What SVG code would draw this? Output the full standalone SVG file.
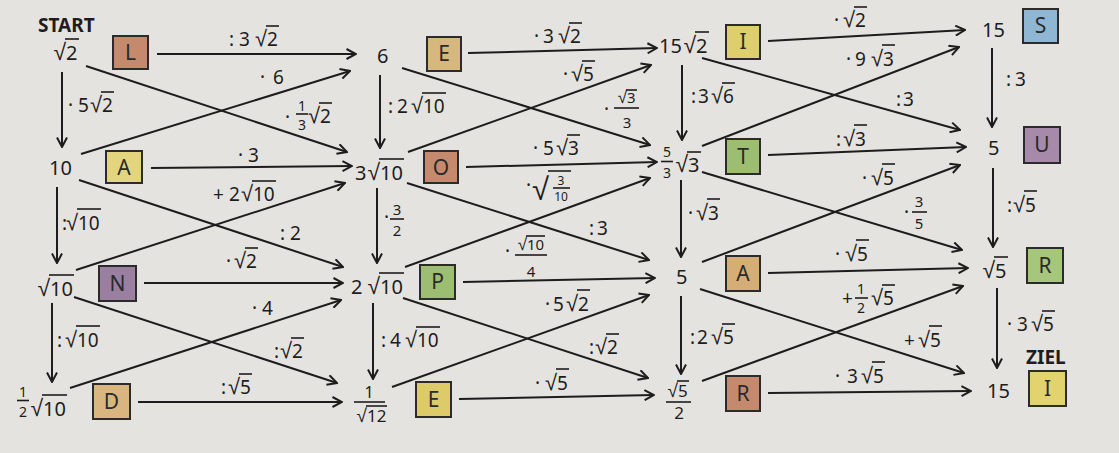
<svg xmlns="http://www.w3.org/2000/svg" width="1119" height="453" viewBox="0 0 1119 453">
<defs>
<style>
text{font-family:"Noto Sans","Open Sans",sans-serif;fill:#1d1d1d}
.n{font-size:20px}
.l{font-size:19px}
.s{font-size:14px;text-anchor:middle}
.s2{font-size:16px;text-anchor:middle}
.r{font-family:"Liberation Sans",sans-serif;font-size:22px}
.rn{font-family:"Liberation Sans",sans-serif;font-size:23px}
.rs{font-family:"Liberation Sans",sans-serif;font-size:17px}
.b{font-weight:bold;font-size:19px}
.k{font-size:21px;text-anchor:middle;fill:#2a2a2a}
.box{stroke:#2b2b2b;stroke-width:2}
.v{stroke:#1d1d1d;stroke-width:1.6;fill:none}
#connectors line{stroke:#1d1d1d;stroke-width:2;marker-end:url(#ah)}
</style>
<marker id="ah" viewBox="0 0 12 12" refX="11" refY="6" markerWidth="12" markerHeight="12" markerUnits="userSpaceOnUse" orient="auto">
<path d="M1.5,1 L11,6 L1.5,11" fill="none" stroke="#1d1d1d" stroke-width="2"/>
</marker>
</defs>
<rect width="1119" height="453" fill="#e5e3df"/>

<g id="connectors">
<line x1="157" y1="54" x2="356" y2="54"/>
<line x1="151" y1="168" x2="352" y2="166"/>
<line x1="144" y1="283" x2="343" y2="283"/>
<line x1="138" y1="402" x2="342" y2="402"/>
<line x1="468" y1="53" x2="657" y2="48"/>
<line x1="466" y1="167" x2="657" y2="162"/>
<line x1="463" y1="282" x2="655" y2="278"/>
<line x1="459" y1="399" x2="654" y2="395"/>
<line x1="768" y1="41" x2="965" y2="30"/>
<line x1="768" y1="155" x2="966" y2="147"/>
<line x1="768" y1="273" x2="968" y2="268"/>
<line x1="768" y1="393" x2="971" y2="391"/>
<line x1="86" y1="66" x2="347" y2="152"/>
<line x1="81" y1="154" x2="350" y2="71"/>
<line x1="79" y1="180" x2="343" y2="267"/>
<line x1="76" y1="270" x2="345" y2="183"/>
<line x1="74" y1="297" x2="337" y2="383"/>
<line x1="70" y1="388" x2="341" y2="300"/>
<line x1="402" y1="68" x2="650" y2="145"/>
<line x1="408" y1="152" x2="651" y2="65"/>
<line x1="407" y1="183" x2="649" y2="260"/>
<line x1="405" y1="267" x2="650" y2="178"/>
<line x1="403" y1="298" x2="648" y2="378"/>
<line x1="392" y1="387" x2="649" y2="295"/>
<line x1="702" y1="58" x2="960" y2="130"/>
<line x1="702" y1="146" x2="959" y2="47"/>
<line x1="702" y1="172" x2="962" y2="250"/>
<line x1="702" y1="262" x2="960" y2="165"/>
<line x1="700" y1="289" x2="964" y2="373"/>
<line x1="702" y1="381" x2="963" y2="286"/>
<line x1="62" y1="72" x2="62" y2="147"/>
<line x1="57" y1="187" x2="57" y2="263"/>
<line x1="52" y1="303" x2="52" y2="382"/>
<line x1="380" y1="75" x2="380" y2="148"/>
<line x1="377" y1="188" x2="377" y2="263"/>
<line x1="373" y1="303" x2="373" y2="379"/>
<line x1="682" y1="65" x2="682" y2="140"/>
<line x1="681" y1="180" x2="681" y2="257"/>
<line x1="681" y1="296" x2="681" y2="374"/>
<line x1="992" y1="48" x2="992" y2="127"/>
<line x1="993" y1="168" x2="993" y2="247"/>
<line x1="997" y1="288" x2="997" y2="368"/>
</g>

<g id="labels">
<text class="l" y="46"><tspan x="229">:</tspan><tspan x="239">3</tspan><tspan class="r" x="267" text-anchor="end">√</tspan><tspan x="267">2</tspan></text><path class="v" d="M266,26h13"/>
<text class="l" y="84"><tspan x="260">·</tspan><tspan x="273">6</tspan></text>
<text class="l" y="124"><tspan x="285">·</tspan></text><text class="s" y="111"><tspan x="302">1</tspan></text><path class="v" d="M296,114h12"/><text class="s" y="130"><tspan x="302">3</tspan></text>
<text class="l" y="123"><tspan class="r" x="320" text-anchor="end">√</tspan><tspan x="320">2</tspan></text><path class="v" d="M319,103h13"/>
<text class="l" y="112"><tspan x="68">·</tspan><tspan x="78">5</tspan><tspan class="r" x="102" text-anchor="end">√</tspan><tspan x="102">2</tspan></text><path class="v" d="M101,92h13"/>
<text class="l" y="162"><tspan x="238">·</tspan><tspan x="248">3</tspan></text>
<text class="l" y="201"><tspan x="213">+</tspan><tspan x="229">2</tspan><tspan class="r" x="253" text-anchor="end">√</tspan><tspan x="253">10</tspan></text><path class="v" d="M252,181h24"/>
<text class="l" y="230"><tspan x="62">:</tspan><tspan class="r" x="78" text-anchor="end">√</tspan><tspan x="78">10</tspan></text><path class="v" d="M77,209h24"/>
<text class="l" y="240"><tspan x="280">:</tspan><tspan x="290">2</tspan></text>
<text class="l" y="268"><tspan x="226">·</tspan><tspan class="r" x="246" text-anchor="end">√</tspan><tspan x="246">2</tspan></text><path class="v" d="M245,248h13"/>
<text class="l" y="315"><tspan x="252">·</tspan><tspan x="262">4</tspan></text>
<text class="l" y="347"><tspan x="57">:</tspan><tspan class="r" x="77" text-anchor="end">√</tspan><tspan x="77">10</tspan></text><path class="v" d="M76,326h24"/>
<text class="l" y="358"><tspan x="274">:</tspan><tspan class="r" x="292" text-anchor="end">√</tspan><tspan x="292">2</tspan></text><path class="v" d="M291,338h13"/>
<text class="l" y="394"><tspan x="221">:</tspan><tspan class="r" x="240" text-anchor="end">√</tspan><tspan x="240">5</tspan></text><path class="v" d="M239,374h13"/>

<text class="l" y="43"><tspan x="534">·</tspan><tspan x="543">3</tspan><tspan class="r" x="570" text-anchor="end">√</tspan><tspan x="570">2</tspan></text><path class="v" d="M569,23h13"/>
<text class="l" y="81"><tspan x="563">·</tspan><tspan class="r" x="583" text-anchor="end">√</tspan><tspan x="583">5</tspan></text><path class="v" d="M582,61h13"/>
<text class="l" y="113"><tspan x="388">:</tspan><tspan x="397">2</tspan><tspan class="r" x="423" text-anchor="end">√</tspan><tspan x="423">10</tspan></text><path class="v" d="M422,93h24"/>
<text class="l" y="116"><tspan x="604">·</tspan></text><text style="font-size:15px" y="103"><tspan class="rs" x="627" text-anchor="end">√</tspan><tspan x="627">3</tspan></text><path class="v" d="M626,90h11"/><path class="v" d="M614,108h25"/><text class="s" style="font-size:15px" y="128"><tspan x="627">3</tspan></text>
<text class="l" y="155"><tspan x="533">·</tspan><tspan x="543">5</tspan><tspan class="r" x="568" text-anchor="end">√</tspan><tspan x="568">3</tspan></text><path class="v" d="M567,135h13"/>
<text class="l" y="192"><tspan x="526">·</tspan><tspan style="font-family:'Liberation Sans',sans-serif;font-size:31px" x="549" y="200" text-anchor="end">√</tspan></text><path class="v" d="M548,171h23"/><text class="s" style="font-size:12px" y="184.5"><tspan x="561">3</tspan></text><path class="v" d="M553,188h17"/><text class="s" style="font-size:12px" y="200.5"><tspan x="561">10</tspan></text>
<text class="l" y="224"><tspan x="384">·</tspan></text><text class="s" style="font-size:15px" y="215"><tspan x="397">3</tspan></text><path class="v" d="M390,219h14"/><text class="s" style="font-size:15px" y="236"><tspan x="397">2</tspan></text>
<text class="l" y="235"><tspan x="589">:</tspan><tspan x="597">3</tspan></text>
<text class="l" y="258"><tspan x="505">·</tspan></text><text style="font-size:15px" y="250"><tspan class="rs" x="527" text-anchor="end">√</tspan><tspan x="527">10</tspan></text><path class="v" d="M526,236h19"/><path class="v" d="M515,255h32"/><text class="s" style="font-size:15px" y="277"><tspan x="531">4</tspan></text>
<text class="l" y="311"><tspan x="545">·</tspan><tspan x="553">5</tspan><tspan class="r" x="578" text-anchor="end">√</tspan><tspan x="578">2</tspan></text><path class="v" d="M577,290h13"/>
<text class="l" y="347"><tspan x="381">:</tspan><tspan x="390">4</tspan><tspan class="r" x="417" text-anchor="end">√</tspan><tspan x="417">10</tspan></text><path class="v" d="M416,327h24"/>
<text class="l" y="354"><tspan x="589">:</tspan><tspan class="r" x="607" text-anchor="end">√</tspan><tspan x="607">2</tspan></text><path class="v" d="M606,334h13"/>
<text class="l" y="390"><tspan x="535">·</tspan><tspan class="r" x="557" text-anchor="end">√</tspan><tspan x="557">5</tspan></text><path class="v" d="M556,369h13"/>

<text class="l" y="27"><tspan x="834">·</tspan><tspan class="r" x="855" text-anchor="end">√</tspan><tspan x="855">2</tspan></text><path class="v" d="M854,7h13"/>
<text class="l" y="66"><tspan x="846">·</tspan><tspan x="855">9</tspan><tspan class="r" x="883" text-anchor="end">√</tspan><tspan x="883">3</tspan></text><path class="v" d="M882,45h13"/>
<text class="l" y="103"><tspan x="691">:</tspan><tspan x="698">3</tspan><tspan class="r" x="723" text-anchor="end">√</tspan><tspan x="723">6</tspan></text><path class="v" d="M722,83h13"/>
<text class="l" y="106"><tspan x="896">:</tspan><tspan x="903">3</tspan></text>
<text class="l" y="86"><tspan x="1006">:</tspan><tspan x="1015">3</tspan></text>
<text class="l" y="146"><tspan x="836">:</tspan><tspan class="r" x="855" text-anchor="end">√</tspan><tspan x="855">3</tspan></text><path class="v" d="M854,125h13"/>
<text class="l" y="185"><tspan x="862">·</tspan><tspan class="r" x="883" text-anchor="end">√</tspan><tspan x="883">5</tspan></text><path class="v" d="M882,164h13"/>
<text class="l" y="212"><tspan x="1007">:</tspan><tspan class="r" x="1025" text-anchor="end">√</tspan><tspan x="1025">5</tspan></text><path class="v" d="M1024,191h13"/>
<text class="l" y="220"><tspan x="688">·</tspan><tspan class="r" x="708" text-anchor="end">√</tspan><tspan x="708">3</tspan></text><path class="v" d="M707,199h13"/>
<text class="l" y="219"><tspan x="904">·</tspan></text><text class="s" style="font-size:15px" y="207"><tspan x="919">3</tspan></text><path class="v" d="M912,212h15"/><text class="s" style="font-size:15px" y="229"><tspan x="919">5</tspan></text>
<text class="l" y="261"><tspan x="835">·</tspan><tspan class="r" x="857" text-anchor="end">√</tspan><tspan x="857">5</tspan></text><path class="v" d="M856,240h13"/>
<text class="l" y="305"><tspan x="842">+</tspan></text><text class="s" y="294"><tspan x="861">1</tspan></text><path class="v" d="M855,298h13"/><text class="s" y="313"><tspan x="861">2</tspan></text>
<text class="l" y="305"><tspan class="r" x="883" text-anchor="end">√</tspan><tspan x="883">5</tspan></text><path class="v" d="M882,285h13"/>
<text class="l" y="344"><tspan x="690">:</tspan><tspan x="697">2</tspan><tspan class="r" x="723" text-anchor="end">√</tspan><tspan x="723">5</tspan></text><path class="v" d="M722,324h13"/>
<text class="l" y="331"><tspan x="1007">·</tspan><tspan x="1017">3</tspan><tspan class="r" x="1043" text-anchor="end">√</tspan><tspan x="1043">5</tspan></text><path class="v" d="M1042,311h13"/>
<text class="l" y="347"><tspan x="904">+</tspan><tspan class="r" x="930" text-anchor="end">√</tspan><tspan x="930">5</tspan></text><path class="v" d="M929,326h13"/>
<text class="l" y="383"><tspan x="835">·</tspan><tspan x="847">3</tspan><tspan class="r" x="873" text-anchor="end">√</tspan><tspan x="873">5</tspan></text><path class="v" d="M872,362h13"/>
</g>

<g id="node-sqrt2">
<text class="b" x="38" y="32">START</text>
<text class="n" y="60"><tspan class="rn" x="66" text-anchor="end">√</tspan><tspan x="66">2</tspan></text><path class="v" d="M65,39h14"/>
<rect class="box" x="113" y="36" width="35" height="33" fill="#c58a6e"/><text class="k" x="130.5" y="60">L</text>
</g>
<g id="node-10">
<text class="n" x="49" y="175">10</text>
<rect class="box" x="106" y="151" width="36" height="32" fill="#e3d47e"/><text class="k" x="124" y="175">A</text>
</g>
<g id="node-sqrt10">
<text class="n" y="296"><tspan class="rn" x="50" text-anchor="end">√</tspan><tspan x="50">10</tspan></text><path class="v" d="M49,275h25"/>
<rect class="box" x="99" y="266" width="37" height="35" fill="#9b7fa0"/><text class="k" x="117.5" y="291">N</text>
</g>
<g id="node-half-sqrt10">
<text class="s" y="397"><tspan x="23">1</tspan></text><path class="v" d="M17,400.5h12"/><text class="s" y="417"><tspan x="23">2</tspan></text>
<text class="n" y="416"><tspan class="rn" x="43" text-anchor="end">√</tspan><tspan x="43">10</tspan></text><path class="v" d="M42,395h25"/>
<rect class="box" x="93" y="384" width="37" height="35" fill="#d9b680"/><text class="k" x="111.5" y="409">D</text>
</g>

<g id="node-6">
<text class="n" x="377" y="63">6</text>
<rect class="box" x="427" y="37" width="34" height="34" fill="#d6b77e"/><text class="k" x="444" y="61">E</text>
</g>
<g id="node-3sqrt10">
<text class="n" y="180"><tspan x="355">3</tspan><tspan class="rn" x="380" text-anchor="end">√</tspan><tspan x="380">10</tspan></text><path class="v" d="M379,159h25"/>
<rect class="box" x="424" y="151" width="34" height="32" fill="#c58a6e"/><text class="k" x="441" y="175">O</text>
</g>
<g id="node-2sqrt10">
<text class="n" y="294"><tspan x="351">2</tspan><tspan class="rn" x="380" text-anchor="end">√</tspan><tspan x="380">10</tspan></text><path class="v" d="M379,273h25"/>
<rect class="box" x="420" y="265" width="35" height="34" fill="#9dbd73"/><text class="k" x="437.5" y="289">P</text>
</g>
<g id="node-1-over-sqrt12">
<text class="s2" y="398"><tspan x="369">1</tspan></text><path class="v" d="M354,402h31"/>
<text style="font-size:17px" y="422"><tspan class="rs" style="font-size:19px" x="367" text-anchor="end">√</tspan><tspan x="367">12</tspan></text><path class="v" d="M366,406h21"/>
<rect class="box" x="416" y="382" width="35" height="35" fill="#dccb68"/><text class="k" x="433.5" y="407">E</text>
</g>

<g id="node-15sqrt2">
<text class="n" y="53"><tspan x="659">15</tspan><tspan class="rn" x="696" text-anchor="end">√</tspan><tspan x="696">2</tspan></text><path class="v" d="M695,32h14"/>
<rect class="box" x="726" y="25" width="34" height="34" fill="#ddce6e"/><text class="k" x="743" y="49">I</text>
</g>
<g id="node-5-3sqrt3">
<text class="s" y="157"><tspan x="667">5</tspan></text><path class="v" d="M661,161.5h12"/><text class="s" y="178"><tspan x="667">3</tspan></text>
<text class="n" y="172"><tspan class="rn" x="688" text-anchor="end">√</tspan><tspan x="688">3</tspan></text><path class="v" d="M687,152h14"/>
<rect class="box" x="726" y="139" width="34" height="35" fill="#9dbd73"/><text class="k" x="743" y="164">T</text>
</g>
<g id="node-5a">
<text class="n" x="676" y="284">5</text>
<rect class="box" x="726" y="256" width="34" height="35" fill="#d5ae76"/><text class="k" x="743" y="281">A</text>
</g>
<g id="node-sqrt5-2">
<text style="font-size:17px" y="397"><tspan class="rs" style="font-size:19px" x="678" text-anchor="end">√</tspan><tspan x="678">5</tspan></text><path class="v" d="M677,381h12"/>
<path class="v" d="M666,402h25"/><text class="s2" style="font-size:17px" y="419"><tspan x="679">2</tspan></text>
<rect class="box" x="726" y="376" width="34" height="35" fill="#c58a6e"/><text class="k" x="743" y="401">R</text>
</g>

<g id="node-15">
<text class="n" x="982" y="37">15</text>
<rect class="box" x="1023" y="9" width="35" height="34" fill="#8fb7d4"/><text class="k" x="1040.5" y="33">S</text>
</g>
<g id="node-5b">
<text class="n" x="988" y="155">5</text>
<rect class="box" x="1024" y="127" width="36" height="36" fill="#a789a9"/><text class="k" x="1042" y="152">U</text>
</g>
<g id="node-sqrt5">
<text class="n" y="278"><tspan class="rn" x="995" text-anchor="end">√</tspan><tspan x="995">5</tspan></text><path class="v" d="M994,257h14"/>
<rect class="box" x="1027" y="248" width="36" height="35" fill="#a6c67c"/><text class="k" x="1045" y="273">R</text>
</g>
<g id="node-15-ziel">
<text class="n" x="987" y="398">15</text>
<text class="b" x="1026" y="364">ZIEL</text>
<rect class="box" x="1029" y="371" width="37" height="35" fill="#e2d36f"/><text class="k" x="1047.5" y="396">I</text>
</g>
</svg>
